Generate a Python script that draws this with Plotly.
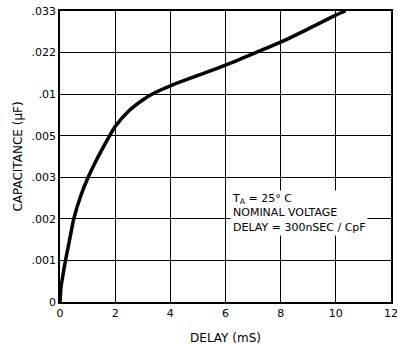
import numpy as np
import plotly.graph_objects as go

# Delay (ms) vs timing capacitance (uF)
delay_ms = [0, 0.04, 0.1, 0.2, 0.35, 0.5, 0.75, 1.02, 1.25, 1.5, 1.75, 2.0,
            2.5, 3.0, 3.4, 4.0, 5.0, 6.0, 7.1, 8.0, 9.0, 10.0, 10.35]
capacitance_uf = [0, 0.00037, 0.00062, 0.001, 0.0015, 0.002, 0.00255, 0.003,
                  0.00364, 0.00428, 0.00488, 0.0061, 0.008, 0.0093, 0.01024,
                  0.0124, 0.0154, 0.0184, 0.022, 0.02475, 0.02827, 0.0319,
                  0.033]

# Capacitance axis: uneven values placed at even steps
cap_ticks = [0, 0.001, 0.002, 0.003, 0.005, 0.01, 0.022, 0.033]
cap_tick_text = ["0", ".001", ".002", ".003", ".005", ".01", ".022", ".033"]
delay_ticks = [0, 2, 4, 6, 8, 10, 12]

cap_steps = list(range(len(cap_ticks)))
y_pos = np.interp(capacitance_uf, cap_ticks, cap_steps)

tick_font = dict(family="DejaVu Sans", size=11, color="black")
title_font = dict(family="DejaVu Sans", size=12, color="black")

fig = go.Figure()
fig.add_trace(go.Scatter(
    x=delay_ms, y=y_pos, mode="lines",
    line=dict(color="black", width=3.5, shape="spline", smoothing=0.8),
    hoverinfo="skip", showlegend=False,
))

fig.add_annotation(
    x=6.18, y=2.69, xref="x", yref="y", xanchor="left", yanchor="top",
    text="T<sub>A</sub> = 25° C<br>NOMINAL VOLTAGE<br>DELAY = 300nSEC / CpF",
    showarrow=False, align="left", bgcolor="white", borderpad=1,
    font=dict(family="DejaVu Sans", size=11, color="black"),
)

fig.update_xaxes(
    range=[0, 12], tickvals=delay_ticks, ticktext=[str(v) for v in delay_ticks],
    showgrid=True, gridcolor="black", gridwidth=1.2, zeroline=False,
    showline=True, linecolor="black", linewidth=1.5, mirror=True,
    ticks="", tickfont=tick_font, automargin=False, ticklabeloverflow="allow",
    title=dict(text="DELAY (mS)", font=title_font, standoff=17),
)
fig.update_yaxes(
    range=[0, 7], tickvals=cap_steps, ticktext=cap_tick_text,
    showgrid=True, gridcolor="black", gridwidth=1.2, zeroline=False,
    showline=True, linecolor="black", linewidth=1.5, mirror=True,
    ticks="", tickfont=tick_font, automargin=False,
    title=dict(text="CAPACITANCE (μF)", font=title_font, standoff=6),
)

fig.update_layout(
    width=398, height=345,
    margin=dict(l=60, r=7, t=11, b=43),
    paper_bgcolor="white", plot_bgcolor="white",
)

fig.write_html("out.html")
